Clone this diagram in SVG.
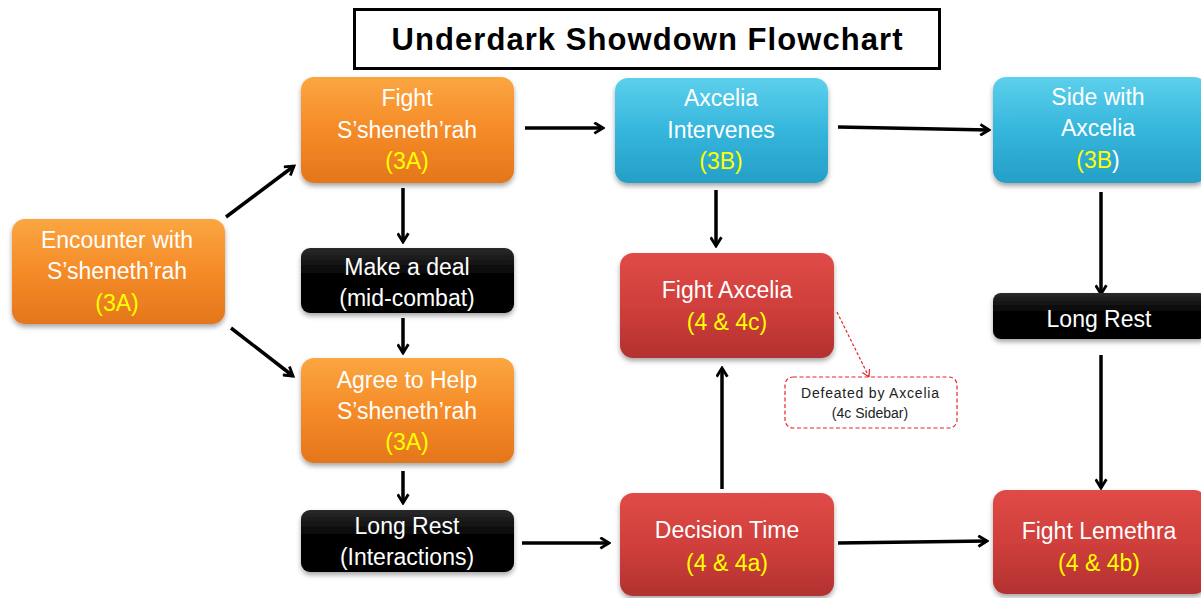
<svg xmlns="http://www.w3.org/2000/svg" width="1201" height="598" viewBox="0 0 1201 598">
<style>
.t{font-family:"Liberation Sans",Arial,sans-serif;font-size:23px;fill:#ffffff;text-anchor:middle}
.y{fill:#ffff00}
.c{stroke:#000;stroke-width:3.5;fill:none;marker-end:url(#ah)}
.title{font-family:"Liberation Sans",Arial,sans-serif;font-size:31px;font-weight:bold;fill:#000;text-anchor:middle}
.s{font-family:"Liberation Sans",Arial,sans-serif;font-size:14px;fill:#222;text-anchor:middle}
</style>
<defs>
<linearGradient id="go" x1="0" y1="0" x2="0" y2="1"><stop offset="0" stop-color="#fba640"/><stop offset="0.5" stop-color="#f58b28"/><stop offset="1" stop-color="#e4761c"/></linearGradient>
<linearGradient id="gc" x1="0" y1="0" x2="0" y2="1"><stop offset="0" stop-color="#5dd0ec"/><stop offset="0.5" stop-color="#35b6dc"/><stop offset="1" stop-color="#259fc7"/></linearGradient>
<linearGradient id="gr" x1="0" y1="0" x2="0" y2="1"><stop offset="0" stop-color="#e04b47"/><stop offset="0.5" stop-color="#d03f3c"/><stop offset="1" stop-color="#b33130"/></linearGradient>
<linearGradient id="gk" x1="0" y1="0" x2="0" y2="1"><stop offset="0" stop-color="#2a2a2a"/><stop offset="0.4" stop-color="#050505"/><stop offset="1" stop-color="#000"/></linearGradient>
<filter id="sh" x="-10%" y="-10%" width="120%" height="130%"><feDropShadow dx="0" dy="3" stdDeviation="2.5" flood-color="#000" flood-opacity="0.35"/></filter>
<marker id="ah" viewBox="0 0 12 12" refX="10" refY="6" markerWidth="13" markerHeight="13" markerUnits="userSpaceOnUse" orient="auto"><path d="M2,1 L10,6 L2,11" fill="none" stroke="#000" stroke-width="2.6"/></marker>
<marker id="ahr" viewBox="0 0 10 10" refX="8" refY="5" markerWidth="10" markerHeight="10" markerUnits="userSpaceOnUse" orient="auto"><path d="M1,1 L8,5 L1,9" fill="none" stroke="#e8262a" stroke-width="1.2"/></marker>
</defs>
<rect width="1201" height="598" fill="#fff"/>
<g id="title"><rect x="354.5" y="9.5" width="585" height="59" fill="#fff" stroke="#000" stroke-width="3"/><text class="title" x="647" y="50" textLength="511" lengthAdjust="spacing">Underdark Showdown Flowchart</text></g>
<g id="connectors">
<line class="c" x1="226" y1="217" x2="294" y2="166"/>
<line class="c" x1="231" y1="328" x2="293" y2="376"/>
<line class="c" x1="403" y1="188" x2="403" y2="242"/>
<line class="c" x1="403" y1="318" x2="403" y2="353"/>
<line class="c" x1="403" y1="471" x2="403" y2="503"/>
<line class="c" x1="525" y1="128" x2="603" y2="128"/>
<line class="c" x1="838" y1="127" x2="989" y2="130"/>
<line class="c" x1="716" y1="190" x2="716" y2="246"/>
<line class="c" x1="722" y1="489" x2="722" y2="368"/>
<line class="c" x1="522" y1="543" x2="609" y2="543"/>
<line class="c" x1="838" y1="543" x2="987" y2="541"/>
<line class="c" x1="1101" y1="192" x2="1101" y2="294"/>
<line class="c" x1="1101" y1="355" x2="1101" y2="488"/>
<line x1="837" y1="312" x2="869" y2="377" stroke="#e8262a" stroke-width="1.2" stroke-dasharray="3,2" marker-end="url(#ahr)"/>
</g>
<g id="encounter"><rect x="12" y="219" width="213" height="105" rx="13" fill="url(#go)" filter="url(#sh)"/><text class="t" x="117" y="248">Encounter with</text><text class="t" x="117" y="279">S’sheneth’rah</text><text class="t y" x="117" y="311">(3A)</text></g>
<g id="fight-ssheneth"><rect x="301" y="77" width="213" height="106" rx="13" fill="url(#go)" filter="url(#sh)"/><text class="t" x="407" y="106">Fight</text><text class="t" x="407" y="138">S’sheneth’rah</text><text class="t y" x="407" y="169">(3A)</text></g>
<g id="make-deal"><rect x="301" y="248" width="213" height="65" rx="9" fill="url(#gk)" filter="url(#sh)"/><text class="t" x="407" y="275">Make a deal</text><text class="t" x="407" y="306">(mid-combat)</text></g>
<g id="agree"><rect x="301" y="358" width="213" height="105" rx="13" fill="url(#go)" filter="url(#sh)"/><text class="t" x="407" y="388">Agree to Help</text><text class="t" x="407" y="419">S’sheneth’rah</text><text class="t y" x="407" y="450">(3A)</text></g>
<g id="long-rest-interactions"><rect x="301" y="510" width="213" height="62" rx="9" fill="url(#gk)" filter="url(#sh)"/><text class="t" x="407" y="534">Long Rest</text><text class="t" x="407" y="565">(Interactions)</text></g>
<g id="axcelia-intervenes"><rect x="615" y="78" width="213" height="105" rx="13" fill="url(#gc)" filter="url(#sh)"/><text class="t" x="721" y="106">Axcelia</text><text class="t" x="721" y="138">Intervenes</text><text class="t y" x="721" y="169">(3B)</text></g>
<g id="fight-axcelia"><rect x="620" y="253" width="214" height="105" rx="13" fill="url(#gr)" filter="url(#sh)"/><text class="t" x="727" y="298">Fight Axcelia</text><text class="t y" x="727" y="330">(4 &amp; 4c)</text></g>
<g id="defeated"><rect x="785" y="377" width="172" height="51" rx="8" fill="#fff" stroke="#e8262a" stroke-width="1.2" stroke-dasharray="4,2.5"/><text class="s" x="870" y="398" textLength="138" lengthAdjust="spacing">Defeated by Axcelia</text><text class="s" x="870" y="418">(4c Sidebar)</text></g>
<g id="decision-time"><rect x="620" y="493" width="214" height="103" rx="13" fill="url(#gr)" filter="url(#sh)"/><text class="t" x="727" y="538">Decision Time</text><text class="t y" x="727" y="571">(4 &amp; 4a)</text></g>
<g id="side-with-axcelia"><rect x="993" y="77" width="214" height="106" rx="13" fill="url(#gc)" filter="url(#sh)"/><text class="t" x="1098" y="105">Side with</text><text class="t" x="1098" y="136">Axcelia</text><text class="t" x="1098" y="168"><tspan class="y">(3B</tspan>)</text></g>
<g id="long-rest"><rect x="993" y="293" width="214" height="46" rx="8" fill="url(#gk)" filter="url(#sh)"/><text class="t" x="1099" y="327">Long Rest</text></g>
<g id="fight-lemethra"><rect x="993" y="490" width="214" height="104" rx="13" fill="url(#gr)" filter="url(#sh)"/><text class="t" x="1099" y="539">Fight Lemethra</text><text class="t y" x="1099" y="571">(4 &amp; 4b)</text></g>
</svg>
